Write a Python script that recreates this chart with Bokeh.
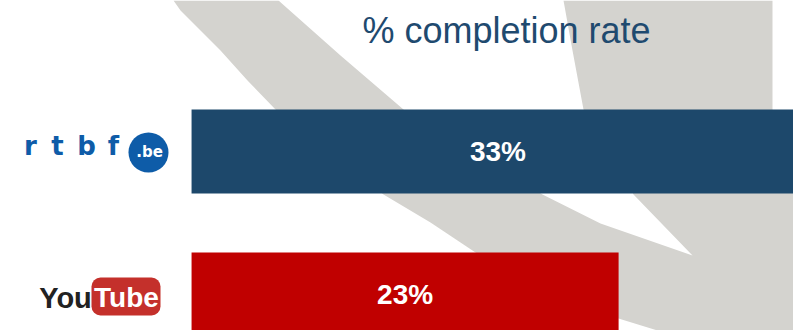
from bokeh.plotting import figure
from bokeh.models import Range1d, ColumnDataSource
from bokeh.core.properties import value
from bokeh.embed import file_html
from bokeh.resources import INLINE

# ---- data ----
sources = ["rtbf.be", "YouTube"]
completion = [33, 23]
labels = ["33%", "23%"]
title_text = "% completion rate"

# ---- style ----
BAR_COLORS = ["#1d486b", "#c00000"]
TITLE_COLOR = "#1f4a6f"
SWOOSH = "#d4d3cf"
RTBF_BLUE = "#0e5ca8"

W, H = 793, 330
idx = list(range(len(sources)))

p = figure(width=W, height=H, output_backend="svg", toolbar_location=None,
           x_range=Range1d(-10.29, 32.42), y_range=Range1d(1.2517, -1.0559),
           x_axis_location=None, y_axis_location=None, min_border=0,
           outline_line_color=None, background_fill_color="white",
           border_fill_color="white")
p.grid.visible = False
p.extra_x_ranges = {"px": Range1d(0, W)}
p.extra_y_ranges = {"px": Range1d(H, 0)}

# decorative background swoosh (pixel space)
sw_x = [173, 278, 340, 403, 470, 542, 600, 692, 633, 610, 583, 572, 563, 772, 772,
        793, 793, 657, 618, 475, 430, 383, 275, 247, 220, 200, 180]
sw_y = [0, 0, 55, 109, 150, 194, 223, 255, 194, 150, 109, 50, 0, 0, 109,
        150, 330, 330, 318, 252, 222, 194, 109, 80, 50, 30, 10]
p.patch(sw_x, sw_y, fill_color=SWOOSH, line_color=None,
        x_range_name="px", y_range_name="px")

src = ColumnDataSource(dict(y=idx, v=completion, half=[c / 2 for c in completion],
                            lab=labels, col=BAR_COLORS))
p.hbar(y="y", left=0, right="v", height=0.587, fill_color="col", line_color=None,
       source=src)
p.text(x="half", y="y", text="lab", source=src, text_color="white",
       text_font=value("Liberation Sans"), text_font_style="bold",
       text_font_size="28px", text_align="center", text_baseline="alphabetic",
       y_offset=0)

# title
p.text(x=[506], y=[30], text=[title_text], text_color=TITLE_COLOR,
       text_font=value("Liberation Sans"), text_font_size="36px",
       text_align="center", text_baseline="alphabetic",
       x_range_name="px", y_range_name="px")

# rtbf.be logo
p.text(x=[30, 57, 86, 113], y=[145, 145, 145, 145], text=["r", "t", "b", "f"],
       text_color=RTBF_BLUE, text_font=value("DejaVu Sans"), text_font_style="bold",
       text_font_size="26px", text_align="center", text_baseline="alphabetic",
       x_range_name="px", y_range_name="px")
p.scatter(x=[148], y=[152], size=40, fill_color=RTBF_BLUE, line_color=None,
          x_range_name="px", y_range_name="px")
p.text(x=[149], y=[151], text=[".be"], text_color="white",
       text_font=value("DejaVu Sans"), text_font_style="bold",
       text_font_size="15px", text_align="center", text_baseline="alphabetic",
       x_range_name="px", y_range_name="px")

# YouTube logo
p.quad(left=[91], right=[160], top=[277], bottom=[315], fill_color="#c4302b",
       line_color=None, border_radius=9, x_range_name="px", y_range_name="px")
p.text(x=[65], y=[297], text=["You"], text_color="#222222",
       text_font=value("Liberation Sans"), text_font_style="bold",
       text_font_size="29px", text_align="center", text_baseline="alphabetic",
       x_range_name="px", y_range_name="px")
p.text(x=[126], y=[297], text=["Tube"], text_color="white",
       text_font=value("Liberation Sans"), text_font_style="bold",
       text_font_size="28px", text_align="center", text_baseline="alphabetic",
       x_range_name="px", y_range_name="px")

open("out.html", "w").write(file_html(p, INLINE))
